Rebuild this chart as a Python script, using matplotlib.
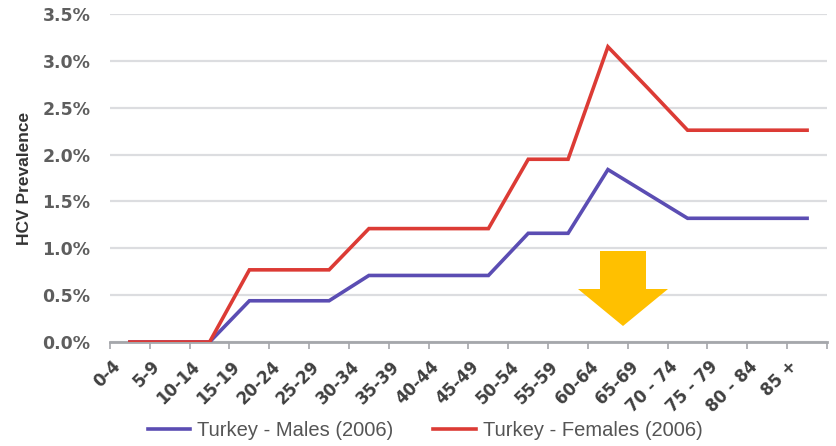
#!/usr/bin/env python3
"""HCV prevalence by age group, Turkey 2006."""
import matplotlib
matplotlib.use("Agg")
import matplotlib.pyplot as plt
import matplotlib.transforms as mtransforms
from matplotlib.patches import Polygon
from matplotlib.ticker import FuncFormatter, FixedLocator

AGE_GROUPS = ["0-4", "5-9", "10-14", "15-19", "20-24", "25-29", "30-34", "35-39",
              "40-44", "45-49", "50-54", "55-59", "60-64", "65-69", "70 - 74",
              "75 - 79", "80 - 84", "85 +"]
MALES   = [0.0, 0.0, 0.0, 0.44, 0.44, 0.44, 0.71, 0.71, 0.71, 0.71,
           1.16, 1.16, 1.84, 1.58, 1.32, 1.32, 1.32, 1.32]
FEMALES = [0.0, 0.0, 0.0, 0.77, 0.77, 0.77, 1.21, 1.21, 1.21, 1.21,
           1.95, 1.95, 3.15, 2.71, 2.26, 2.26, 2.26, 2.26]
Y_TICKS = [0.0, 0.5, 1.0, 1.5, 2.0, 2.5, 3.0, 3.5]

C_MALE   = "#5B4DB3"
C_FEMALE = "#DC3B35"
C_ARROW  = "#FFC000"
C_YTICK  = "#5E5E5E"
C_XTICK  = "#404040"

plt.rcParams["font.family"] = ["Liberation Sans", "DejaVu Sans"]
TICK_FONT = ["DejaVu Sans"]

fig = plt.figure(figsize=(8.36, 4.46), dpi=100)
ax = fig.add_axes([110 / 836, (446 - 342) / 446, 717 / 836, 328 / 446])

x = list(range(len(AGE_GROUPS)))
ax.plot(x, MALES, color=C_MALE, lw=2.6, solid_joinstyle="miter",
        label="Turkey - Males (2006)", zorder=3)
ax.plot(x, FEMALES, color=C_FEMALE, lw=2.6, solid_joinstyle="miter",
        label="Turkey - Females (2006)", zorder=4)

ax.set_xlim(-0.5, len(AGE_GROUPS) - 0.5)
ax.set_ylim(0, 3.5)
ax.set_yticks(Y_TICKS)
ax.yaxis.set_major_formatter(FuncFormatter(lambda v, _: f"{v:.1f}%"))
ax.grid(axis="y", color="#DCDDE0", lw=1.6, zorder=0)
ax.set_axisbelow(True)

# labels at category centres, tick marks at category boundaries
ax.set_xticks(x)
ax.set_xticklabels(AGE_GROUPS, rotation=45, ha="right", va="center",
                   rotation_mode="anchor", fontsize=12, fontweight="bold",
                   color=C_XTICK, family=TICK_FONT)
ax.xaxis.set_minor_locator(FixedLocator([i - 0.5 for i in range(len(AGE_GROUPS) + 1)]))
ax.tick_params(axis="x", which="major", length=0, pad=15.5)
ax.tick_params(axis="x", which="minor", length=5, width=1.2, color="#A5A7AB")
offset = mtransforms.ScaledTranslation(-12 / 100, 0, fig.dpi_scale_trans)
for lab in ax.get_xticklabels():
    lab.set_transform(lab.get_transform() + offset)

ax.tick_params(axis="y", length=0, pad=14)
for lab in ax.get_yticklabels():
    lab.set_fontsize(12.5)
    lab.set_fontweight("bold")
    lab.set_color(C_YTICK)
    lab.set_family(TICK_FONT)

for s in ("top", "right", "left"):
    ax.spines[s].set_visible(False)
ax.spines["bottom"].set_color("#A5A7AB")
ax.spines["bottom"].set_linewidth(2.0)

fig.text(25 / 836, 1 - 178 / 446, "HCV Prevalence", rotation=90, ha="center",
         va="center", fontsize=12.5, fontweight="bold", color="#333333")

# yellow down arrow
arrow = [(600, 251), (646, 251), (646, 289), (668, 289), (623, 326),
         (578, 289), (600, 289)]
arrow = [(px / 836, 1 - py / 446) for px, py in arrow]
fig.patches.append(Polygon(arrow, closed=True, transform=fig.transFigure,
                           facecolor=C_ARROW, edgecolor="none"))

fig.legend(loc="center", bbox_to_anchor=(425 / 836, 1 - 431 / 446), ncol=2,
           frameon=False, fontsize=14.5, handlelength=2.1, handletextpad=0.35,
           columnspacing=2.0, labelcolor="#555555", borderpad=0)

fig.savefig("out.png", dpi=100)
